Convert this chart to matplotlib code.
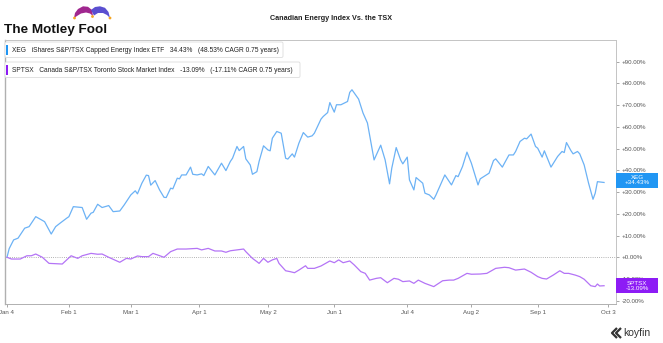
import pandas as pd
import matplotlib
matplotlib.use("Agg")
import matplotlib.pyplot as plt
import matplotlib.transforms as mtrans
from matplotlib.patches import FancyBboxPatch, Rectangle, Polygon, Circle

plt.rcParams["font.family"] = ["Liberation Sans", "DejaVu Sans"]

year = "2021"

# XEG - % change since Jan 4
xeg_days = ["01-04", "01-05", "01-07", "01-09", "01-12", "01-14", "01-17", "01-21", "01-23", "01-24",
            "01-26", "01-28", "01-31", "02-01", "02-03", "02-07", "02-09", "02-11", "02-12", "02-14",
            "02-16", "02-19", "02-21", "02-24", "02-26", "03-01", "03-03", "03-04", "03-06", "03-08",
            "03-09", "03-10", "03-12", "03-14", "03-16", "03-17", "03-19", "03-20", "03-22", "03-23",
            "03-24", "03-26", "03-28", "03-29", "03-31", "04-02", "04-03", "04-05", "04-08", "04-11",
            "04-13", "04-15", "04-16", "04-18", "04-19", "04-21", "04-22", "04-24", "04-25", "04-27",
            "04-28", "04-30", "05-02", "05-03", "05-04", "05-06", "05-08", "05-10", "05-11", "05-13",
            "05-14", "05-16", "05-18", "05-20", "05-22", "05-23", "05-26", "05-27", "05-29", "05-30",
            "06-01", "06-02", "06-04", "06-07", "06-08", "06-09", "06-12", "06-14", "06-16", "06-19",
            "06-22", "06-24", "06-26", "06-27", "06-29", "07-01", "07-02", "07-04", "07-05", "07-07",
            "07-08", "07-11", "07-12", "07-14", "07-16", "07-17", "07-19", "07-21", "07-24", "07-26",
            "07-27", "07-29", "07-31", "08-02", "08-05", "08-06", "08-10", "08-12", "08-13", "08-16",
            "08-19", "08-21", "08-22", "08-24", "08-26", "08-27", "08-29", "08-31", "09-01", "09-03",
            "09-04", "09-07", "09-10", "09-12", "09-13", "09-14", "09-16", "09-17", "09-19", "09-20",
            "09-22", "09-24", "09-26", "09-27", "09-28", "10-01"]
xeg_pct = [0, 4, 8, 8.8, 13.4, 14.1, 18.7, 16.4, 12.6, 10.7,
           14.1, 15.7, 18, 18.7, 23.3, 22.9, 17.5, 20.3, 20.7, 24.4,
           22.9, 23.8, 21, 21.3, 24.1, 28.7, 30.6, 29.2, 34.1, 37.8,
           37.6, 33.2, 35.3, 31, 27.6, 27.5, 31.8, 31.5, 36.4, 36.1,
           37.9, 37.9, 41.5, 38.2, 37.9, 38.4, 37.6, 41.8, 37.9, 43.3,
           39.9, 44.1, 45.6, 51, 49.1, 51, 45.3, 42.5, 38.2, 39.4,
           44.1, 51.3, 49.4, 49, 54.8, 57.9, 57.1, 45.6, 45.2, 47.6,
           46.1, 52.5, 57.4, 55.3, 55.9, 57.1, 63.6, 64.8, 66.6, 71.2,
           66.8, 70.2, 70.2, 71.7, 75.9, 77.1, 72.8, 66.4, 61.8, 44.8,
           51.6, 44.8, 33.8, 41, 50.5, 44.8, 43, 46.1, 35.6, 31,
           36.7, 34.1, 29.5, 28.7, 26.7, 28.7, 33.3, 37.9, 33.3, 37.6,
           37.1, 41.8, 48.4, 43.3, 33.3, 36.1, 38.7, 44.5, 45.3, 41.5,
           47.1, 47.1, 48.7, 53.3, 54.8, 54.5, 56.7, 51, 50.2, 46.1,
           49, 41.5, 46.4, 48.7, 48.2, 52.8, 49.1, 47.6, 48.7, 47.6,
           42.5, 34.1, 26.7, 29.5, 34.8, 34.43]

# SPTSX - % change since Jan 4
tsx_days = ["01-04", "01-06", "01-10", "01-13", "01-15", "01-17", "01-20", "01-23", "01-29", "01-31",
            "02-02", "02-05", "02-07", "02-11", "02-14", "02-16", "02-19", "02-24", "02-27", "03-01",
            "03-04", "03-06", "03-09", "03-11", "03-13", "03-16", "03-19", "03-22", "03-26", "03-31",
            "04-02", "04-05", "04-08", "04-11", "04-13", "04-15", "04-18", "04-21", "04-22", "04-25",
            "04-27", "04-28", "04-30", "05-02", "05-04", "05-06", "05-07", "05-10", "05-12", "05-14",
            "05-16", "05-19", "05-20", "05-23", "05-26", "05-30", "06-01", "06-03", "06-05", "06-08",
            "06-10", "06-13", "06-15", "06-17", "06-20", "06-22", "06-25", "06-28", "06-30", "07-02",
            "07-05", "07-07", "07-09", "07-12", "07-16", "07-17", "07-20", "07-23", "07-25", "07-27",
            "07-31", "08-02", "08-06", "08-09", "08-13", "08-17", "08-19", "08-22", "08-26", "08-29",
            "09-01", "09-03", "09-05", "09-08", "09-11", "09-13", "09-15", "09-18", "09-20", "09-22",
            "09-25", "09-27", "09-28", "09-29", "10-01"]
tsx_pct = [0, -0.8, -0.8, 0.7, 0.7, 1.5, 0, -2.8, -3.1, -1.2,
           0.7, -0.5, 0.7, 1.8, 1.4, 1.5, 0, -2.3, -0.5, -0.8,
           0.6, 0.3, 0.3, 1.8, 1.1, 0, 2.6, 3.8, 3.8, 4.1,
           3.4, 4.1, 2.9, 2.9, 2.3, 3.0, 3.4, 3.8, 2.6, -0.5,
           -2, -2.8, -0.5, -2.3, -1.2, -0.5, -2.8, -6.2, -6.6, -7.1,
           -5.9, -3.9, -5.1, -5.1, -4.0, -1.7, -2.5, -1.2, -2.5, -1.7,
           -3.5, -6.6, -7.4, -10.5, -9.7, -9.4, -11.7, -9.7, -10.1, -11.2,
           -10.9, -12, -10.5, -12, -13.5, -12.8, -10.8, -10.5, -10.5, -9.7,
           -7.4, -7.8, -7.7, -7.4, -5.1, -4.6, -4.8, -5.9, -5.4, -6.9,
           -8.9, -9.7, -10, -8.2, -6.2, -7.4, -7.4, -8.2, -8.9, -10.1,
           -13.1, -13.5, -12.3, -13.2, -13.09]

tick_days = ["01-04", "02-01", "03-01", "04-01", "05-02", "06-01", "07-04", "08-02", "09-01", "10-03"]
tick_labels = ["Jan 4", "Feb 1", "Mar 1", "Apr 1", "May 2", "Jun 1", "Jul 4", "Aug 2", "Sep 1", "Oct 3"]
y_ticks = [-20, -10, 0, 10, 20, 30, 40, 50, 60, 70, 80, 90]

legend_rows = [
    ("XEG", "iShares S&P/TSX Capped Energy Index ETF", "34.43%", "(48.53% CAGR 0.75 years)"),
    ("SPTSX", "Canada S&P/TSX Toronto Stock Market Index", "-13.09%", "(-17.11% CAGR 0.75 years)"),
]
end_labels = [("XEG", "+34.43%"), ("SPTSX", "-13.09%")]

line_cols = ["#6cb2f5", "#b474f6"]
tag_cols = ["#2196f3", "#8d1cf5"]


def to_dates(days):
    return pd.to_datetime([f"{year}-{d}" for d in days])


xeg_x = to_dates(xeg_days)
tsx_x = to_dates(tsx_days)
t0 = pd.Timestamp(f"{year}-01-04")

W, H = 663, 343
fig = plt.figure(figsize=(W / 100, H / 100), dpi=100)
ax = fig.add_axes([5 / W, (H - 304) / H, 611 / W, 264 / H])

ax.plot(xeg_x, xeg_pct, color=line_cols[0], lw=0.9, zorder=3)
ax.plot(tsx_x, tsx_pct, color=line_cols[1], lw=0.9, zorder=3)
ax.axhline(0, color="#9a9a9a", lw=0.6, ls=(0, (1, 1.6)), zorder=2)

ax.set_xlim(t0 - pd.Timedelta(days=0.9), t0 + pd.Timedelta(days=275.4))
ax.set_ylim(-21.5, 100)

ax.set_xticks(to_dates(tick_days))
ax.set_xticklabels(tick_labels)
ax.set_yticks(y_ticks)
ax.set_yticklabels([f"{v:+.2f}%" if v != 0 else "+0.00%" for v in y_ticks])
ax.yaxis.tick_right()
ax.tick_params(axis="both", length=2, width=0.6, color="#999999",
               labelsize=4.4, labelcolor="#555555", pad=2)

for side, sp in ax.spines.items():
    sp.set_color("#c4c4c4")
    sp.set_linewidth(0.7)
ax.spines["left"].set_color("#b0b0b0")
ax.spines["left"].set_linewidth(1.0)
ax.spines["bottom"].set_color("#b0b0b0")

# end-of-line value tags on the right axis
blend = mtrans.blended_transform_factory(ax.transAxes, ax.transData)
for (name, val), col, y in zip(end_labels, tag_cols, [xeg_pct[-1] + 1, tsx_pct[-1]]):
    ax.add_patch(Rectangle((1.0, y - 3.45), 42 / 611, 6.9, transform=blend,
                           fc=col, ec="none", clip_on=False, zorder=5))
    ax.text(1.0 + 21 / 611, y, f"{name}\n{val}", transform=blend, ha="center", va="center",
            color="white", fontsize=4.5, linespacing=1.05, zorder=6, clip_on=False)

# overlay in pixel units for header, legend and logos
ov = fig.add_axes([0, 0, 1, 1], facecolor="none")
ov.set_xlim(0, W)
ov.set_ylim(H, 0)
ov.axis("off")

ov.text(331, 19, "Canadian Energy Index Vs. the TSX", fontsize=5.2, fontweight="bold",
        color="#222222", ha="center", va="center")

# Motley Fool logo
ov.text(4, 33, "The Motley Fool", fontsize=9.7, fontweight="bold", color="#111111",
        ha="left", va="baseline")
ov.add_patch(Polygon([(74, 18), (75, 13), (78, 9), (83, 6.3), (88, 6.8), (92, 10), (93, 16),
                      (90, 13.5), (86, 12.5), (81, 13.5), (77, 16)], closed=True, fc="#a0278f", ec="none"))
ov.add_patch(Polygon([(91, 10), (95, 7), (100, 6.3), (105, 7.8), (108.5, 12), (110, 18),
                      (107, 15), (103, 13), (98, 13), (94, 15.5)], closed=True, fc="#5a4fd0", ec="none"))
for cx, cy in [(74.5, 18), (92.5, 16.5), (110, 18)]:
    ov.add_patch(Circle((cx, cy), 1.4, fc="#f5a623", ec="none"))

# legend boxes
box_y = [42, 62]
box_w = [278, 295]
for (tk, nm, ret, cagr), col, by, bw in zip(legend_rows, tag_cols, box_y, box_w):
    ov.add_patch(FancyBboxPatch((5, by), bw, 15.5, boxstyle="round,pad=0,rounding_size=1.5",
                                fc="white", ec="#dddddd", lw=0.6))
    ov.add_patch(Rectangle((6.2, by + 2.5), 2.2, 10.5, fc=col, ec="none"))
    ov.text(11.5, by + 8, f"{tk}   {nm}   {ret}   {cagr}", fontsize=4.8, color="#222222",
            ha="left", va="center")

# koyfin logo
ov.plot([617, 612, 617], [328, 333, 338], color="#333333", lw=1.6, solid_capstyle="butt")
ov.plot([621, 616, 621], [328, 333, 338], color="#333333", lw=1.6, solid_capstyle="butt")
ov.text(623, 333, "koyfin", fontsize=7.5, color="#333333", ha="left", va="center")

fig.savefig("out.png", dpi=100)
